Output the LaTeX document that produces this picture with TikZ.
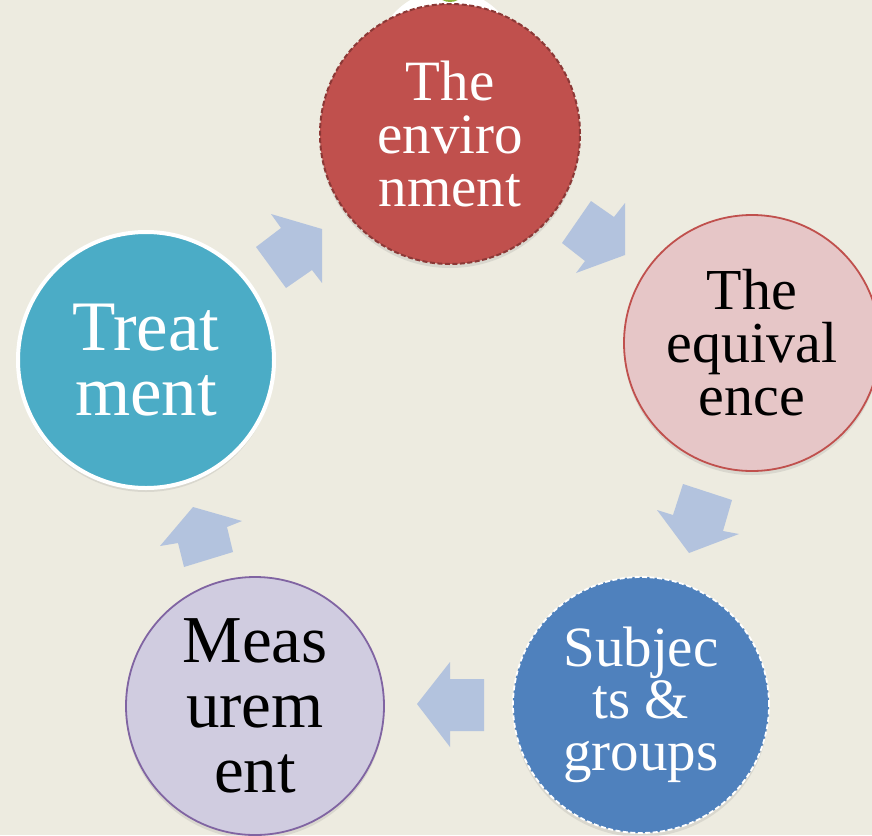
\documentclass[tikz,border=0pt]{standalone}
\usepackage{fontspec}
\setmainfont{Liberation Serif}
\usetikzlibrary{shadows}
\definecolor{bg}{HTML}{EDEBE0}
\definecolor{redfill}{HTML}{C0504D}
\definecolor{reddash}{HTML}{8C3836}
\definecolor{pinkfill}{HTML}{E6C6C7}
\definecolor{bluefill}{HTML}{4F81BD}
\definecolor{lavfill}{HTML}{D0CCE0}
\definecolor{lavline}{HTML}{8064A2}
\definecolor{tealfill}{HTML}{4BACC6}
\definecolor{arrowfill}{HTML}{B3C3DE}
\definecolor{topgreen}{HTML}{8DB340}
\tikzset{
  bubble/.style={circle, inner sep=0pt, align=center,
    drop shadow={opacity=0.18, shadow xshift=0pt, shadow yshift=-4pt}},
  blockarrow/.style={fill=arrowfill, draw=none},
  dashedrim/.style={dash pattern=on 5pt off 2.5pt},
}
\begin{document}
\begin{tikzpicture}[x=1pt, y=-1pt]
\fill[bg] (0,0) rectangle (872,835);
\useasboundingbox (0,0) rectangle (872,835);
\clip (0,0) rectangle (872,835);

% partial element at the top
\fill[white] (447,62) circle (72);
\fill[topgreen] (450,-5) ellipse (11 and 7);

% circles
\node[bubble, fill=redfill, draw=reddash, line width=2pt, dashedrim,
      minimum size=260pt, text=white, font=\fontsize{57}{53}\selectfont]
  (env) at (450,134) {\raisebox{3pt}{\parbox{200pt}{\centering The\\enviro\\nment}}};
\node[bubble, fill=pinkfill, draw=redfill, line width=1.8pt,
      minimum size=256pt, text=black, font=\fontsize{58}{53}\selectfont]
  (equ) at (752,343) {The\\equival\\ence};
\node[bubble, fill=bluefill, draw=white, line width=1.8pt, dashedrim,
      minimum size=256pt, text=white, font=\fontsize{57}{52}\selectfont]
  (sub) at (641,705) {Subjec\\ts \&\\groups};
\node[bubble, fill=lavfill, draw=lavline, line width=1.8pt,
      minimum size=258pt, text=black, font=\fontsize{67}{65}\selectfont]
  (mea) at (255,706) {\raisebox{3pt}{\parbox{180pt}{\centering Meas\\urem\\ent}}};
\node[bubble, fill=tealfill, draw=white, line width=4pt,
      minimum size=256pt, text=white, font=\fontsize{71}{65}\selectfont]
  (tre) at (146,360) {\raisebox{3pt}{\parbox{180pt}{\centering Treat\\ment}}};

% block arrows
\fill[blockarrow] (322,229) -- (322,283) -- (312,270) -- (286,288) -- (256,247) -- (281,228) -- (271,214) -- cycle;
\fill[blockarrow] (625,255) -- (576,273) -- (585,261) -- (562,243) -- (591,201) -- (614,217) -- (625,203) -- cycle;
\fill[blockarrow] (689,553) -- (657,510) -- (673,515) -- (683,484) -- (732,500) -- (723,531) -- (739,534) -- cycle;
\fill[blockarrow] (417,704) -- (450,662) -- (450,679) -- (484,679) -- (484,731) -- (450,731) -- (450,747) -- cycle;
\fill[blockarrow] (193,507) -- (242,521) -- (227,527) -- (233,552) -- (184,567) -- (178,543) -- (160,546) -- cycle;
\end{tikzpicture}
\end{document}
